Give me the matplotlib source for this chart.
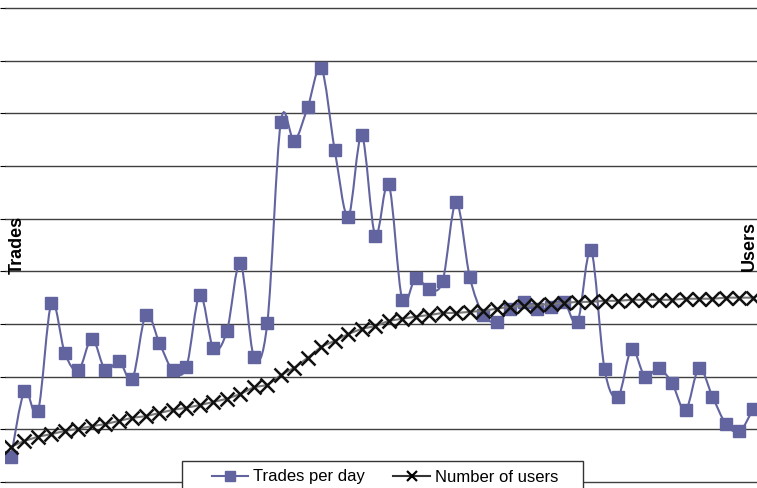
import numpy as np
import matplotlib
matplotlib.use("Agg")
import matplotlib.pyplot as plt
from matplotlib.path import Path
from matplotlib.patches import PathPatch, Rectangle
from matplotlib.lines import Line2D

plt.rcParams['font.family'] = ['Liberation Sans', 'DejaVu Sans']

# daily values
trades = [24, 86, 67, 170, 122, 106, 136, 106, 115, 98,
          159, 132, 106, 109, 178, 127, 143, 208, 119, 151,
          342, 324, 356, 393, 315, 252, 329, 234, 283, 173,
          194, 183, 191, 266, 195, 159, 152, 164, 171, 164,
          166, 171, 152, 220, 107, 81, 126, 100, 108, 94,
          68, 108, 81, 55, 48, 69]
users = [67, 78, 86, 91, 97, 101, 106, 110, 116, 122,
         125, 131, 137, 141, 146, 152, 158, 167, 180, 184,
         203, 217, 236, 257, 268, 281, 291, 296, 306, 310,
         314, 317, 321, 321, 323, 325, 329, 333, 334, 336,
         338, 340, 342, 342, 344, 344, 346, 346, 346, 346,
         348, 348, 348, 350, 350, 350]
days = np.arange(len(trades))

trade_col = '#6264a0'

# smooth curve through the points (cubic bezier, like a spreadsheet "smoothed line")
def smooth_path(x, y):
    pts = np.column_stack([x, y]).astype(float)
    n = len(pts)
    verts = [pts[0]]
    codes = [Path.MOVETO]
    for i in range(n - 1):
        p0 = pts[i - 1] if i > 0 else pts[i]
        p1 = pts[i]
        p2 = pts[i + 1]
        p3 = pts[i + 2] if i + 2 < n else pts[i + 1]
        verts += [p1 + (p2 - p0) / 6, p2 - (p3 - p1) / 6, p2]
        codes += [Path.CURVE4] * 3
    return Path(verts, codes)

fig = plt.figure(figsize=(7.57, 4.88), dpi=100)
ax = fig.add_axes([5 / 757, 0, 752 / 757, 1])

# grid
ax.set_ylim(-5.7, 457.6)
ax.set_xlim(-0.445, 55.3)
ax.set_yticks(np.arange(0, 451, 50))
ax.yaxis.grid(True, color='#404040', linewidth=1.0)
ax.set_axisbelow(True)
ax.tick_params(left=False, bottom=False, labelleft=False, labelbottom=False)
for s in ax.spines.values():
    s.set_visible(False)

# second axis, users scale is twice the trades scale
ax2 = ax.twinx()
ax2.set_ylim(-11.4, 915.2)
ax2.tick_params(right=False, labelright=False)
for s in ax2.spines.values():
    s.set_visible(False)

# trades
ax2.add_patch(PathPatch(smooth_path(days, np.array(trades) * 2.0), fill=False,
                        edgecolor=trade_col, linewidth=1.5, zorder=2))
ax2.plot(days, np.array(trades) * 2.0, linestyle='none', marker='s', markersize=8,
         color=trade_col, zorder=3)

# users drawn over the trades
ax2.plot(days, users, color='#7a7a7a', linewidth=1.5, zorder=4)
ax2.plot(days, users, linestyle='none', marker='x', markersize=10,
         markeredgewidth=1.8, color='#111111', zorder=5)

# axis titles
fig.text(17.5 / 757, 1 - 245 / 488, 'Trades', rotation=90, ha='center', va='center',
         fontsize=13, fontweight='bold')
fig.text(749 / 757, 1 - 246 / 488, 'Users', rotation=90, ha='center', va='center',
         fontsize=13, fontweight='bold')

# legend box (cut off at the bottom like the original)
fig.patches.append(Rectangle((182 / 757, -0.05), 401 / 757, (488 - 460.7) / 488 + 0.05,
                             transform=fig.transFigure, facecolor='white',
                             edgecolor='#333333', linewidth=1, zorder=4))
handles = [Line2D([], [], color=trade_col, marker='s', markersize=7, linewidth=1.5),
           Line2D([], [], color='#333333', marker='x', markersize=7,
                  markeredgecolor='black', markeredgewidth=1.6, linewidth=1.5)]
fig.legend(handles, ['Trades per day', 'Number of users'], loc='center',
           bbox_to_anchor=(385 / 757, 11 / 488), ncol=2, frameon=False, fontsize=12,
           handlelength=2.2, handletextpad=0.3, columnspacing=1.7, borderpad=0.2)

fig.savefig('out.png', dpi=100)
